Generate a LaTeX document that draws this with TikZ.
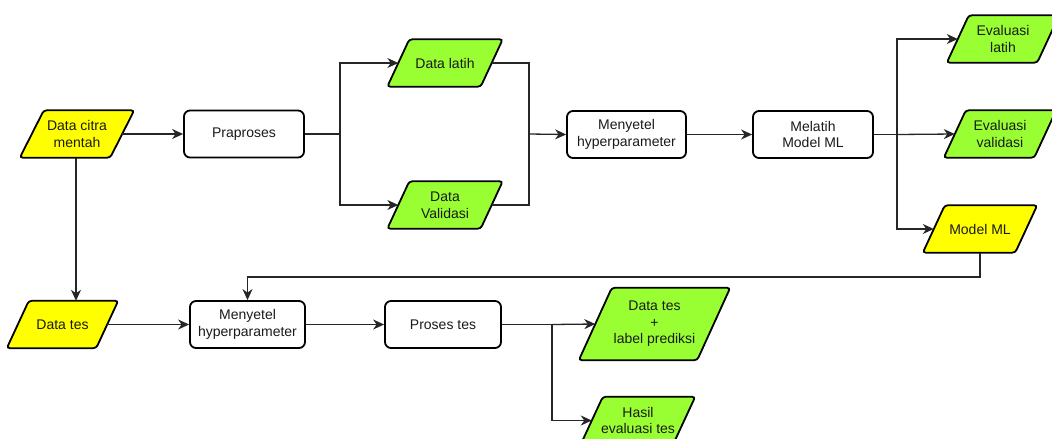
\documentclass[tikz,border=0pt]{standalone}
\usepackage{fontspec}
\setmainfont{Liberation Sans}
\usetikzlibrary{arrows.meta,backgrounds}
\definecolor{fgreen}{HTML}{99FF33}
\definecolor{fyellow}{HTML}{FFFF00}
\definecolor{txt}{HTML}{1A1A1A}
\tikzset{
  procbox/.style={draw=black, line width=1.8pt, rounded corners=6pt, fill=white,
    minimum width=#1, minimum height=47pt, inner sep=0pt, align=center, text=txt},
  paranode/.style={minimum width=#1, minimum height=47pt, inner sep=0pt, align=center, text=txt},
  parashape/.style={draw=black, line width=1.8pt, rounded corners=3pt},
  conn/.style={draw=black!85, line width=1.3pt},
  arr/.style={conn, -{Stealth[length=11pt,width=10pt,inset=3.5pt]}},
}
\begin{document}
\begin{tikzpicture}[font=\fontsize{14}{16.5}\selectfont]
\useasboundingbox (0,0) rectangle (1052pt,-439pt);
\clip (0,0) rectangle (1052pt,-439pt);
\begin{scope}[x=1pt,y=-1pt]
% parallelogram nodes
\node[paranode=90] (dcm) at (77,134) {Data citra\\mentah};
\node[paranode=93] (latih) at (445,63) {Data latih};
\node[paranode=93] (valid) at (445,205) {Data\\Validasi};
\node[paranode=90] (evlat) at (1003,39) {Evaluasi\\latih};
\node[paranode=90] (evval) at (1000,134) {Evaluasi\\validasi};
\node[paranode=92] (model) at (980,229) {Model ML};
\node[paranode=89] (dtes) at (62.5,324.5) {Data tes};
\node[paranode=118,minimum height=72pt] (dlab) at (654.5,324) {Data tes\\+\\label prediksi};
\node[paranode=92] (hasil) at (638,420.5) {Hasil\\evaluasi tes};
% process boxes
\node[procbox=120] (prap) at (244,134) {Praproses};
\node[procbox=119] (men1) at (626.5,134.5) {Menyetel\\hyperparameter};
\node[procbox=120] (mel) at (813,134.5) {Melatih\\Model ML};
\node[procbox=115] (men2) at (247.5,324.5) {Menyetel\\hyperparameter};
\node[procbox=116] (proses) at (443,324.5) {Proses tes};
% junction coordinates
\coordinate (sp1) at (340,134);
\coordinate (jn1) at (529,134);
\coordinate (sp2) at (897,134.5);
\coordinate (bend) at (980,277);
\coordinate (sp3) at (552,324.5);
\end{scope}
% parallelogram outlines
\begin{scope}[on background layer]
\foreach \n/\s/\c in {dcm/12/fyellow, latih/11/fgreen, valid/11/fgreen, evlat/11/fgreen,
    evval/11/fgreen, model/11/fyellow, dtes/11/fyellow, dlab/16.5/fgreen, hasil/11/fgreen}
  \draw[parashape, fill=\c] ([xshift=\s pt]\n.north west) -- ([xshift=\s pt]\n.north east)
    -- ([xshift=-\s pt]\n.south east) -- ([xshift=-\s pt]\n.south west) -- cycle;
\end{scope}
% connectors
\draw[arr] (dcm.east) -- (prap.west);
\draw[conn] (prap.east) -- (sp1);
\draw[arr] (sp1) |- (latih.west);
\draw[arr] (sp1) |- (valid.west);
\draw[conn] (latih.east) -| (jn1);
\draw[conn] (valid.east) -| (jn1);
\draw[arr] (jn1) -- (men1.west);
\draw[arr] (men1.east) -- (mel.west);
\draw[conn] (mel.east) -- (sp2);
\draw[arr] (sp2) |- (evlat.west);
\draw[arr] (sp2) -- (evval.west);
\draw[arr] (sp2) |- (model.west);
\draw[arr] (model.south) -- (bend) -| (men2.north);
\draw[arr] ([xshift=-1pt]dcm.south) -- ([xshift=-1pt]dcm.south |- dtes.north);
\draw[arr] (dtes.east) -- (men2.west);
\draw[arr] (men2.east) -- (proses.west);
\draw[conn] (proses.east) -- (sp3);
\draw[arr] (sp3) -- (dlab.west);
\draw[arr] (sp3) |- (hasil.west);
\end{tikzpicture}
\end{document}
